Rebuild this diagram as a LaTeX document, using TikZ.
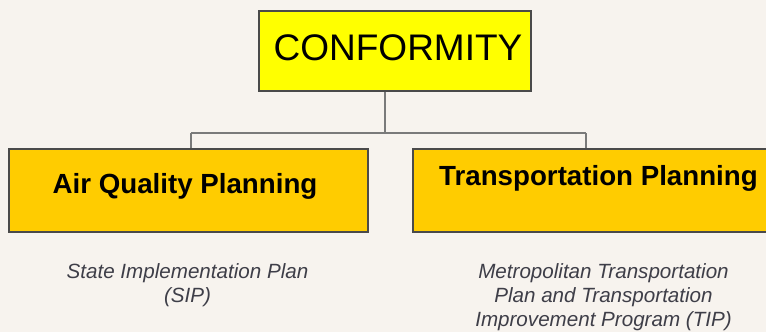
\documentclass[tikz,border=0pt]{standalone}
\usepackage{fontspec}
\setmainfont{Liberation Sans}
\definecolor{bg}{HTML}{F7F3EE}
\definecolor{topfill}{HTML}{FFFF00}
\definecolor{subfill}{HTML}{FFCC00}
\definecolor{boxline}{HTML}{4A4A4A}
\definecolor{linkline}{HTML}{7A7A7A}
\definecolor{notetext}{HTML}{3E3E48}
\tikzset{
  topbox/.style={draw=boxline, line width=1.2pt, fill=topfill, minimum width=272pt, minimum height=80pt, inner sep=0pt},
  subbox/.style={draw=boxline, line width=1.2pt, fill=subfill, minimum width=359pt, minimum height=83pt, inner sep=0pt},
  toptext/.style={anchor=base, inner sep=0pt, font=\fontsize{37}{44}\selectfont},
  subtext/.style={anchor=base, inner sep=0pt, font=\bfseries\fontsize{27.7}{33}\selectfont},
  notetext/.style={anchor=base, inner sep=0pt, align=center, text=notetext, font=\itshape\fontsize{20.6}{24}\selectfont},
  link/.style={draw=linkline, line width=1.3pt},
}
\begin{document}
\begin{tikzpicture}[x=1pt,y=-1pt]
\fill[bg] (0,0) rectangle (766,332);
\useasboundingbox (0,0) rectangle (766,332);
\clip (0,0) rectangle (766,332);
\node[topbox] (top) at (395,51) {};
\node[subbox] (air) at (188.5,190.5) {};
\node[subbox] (trans) at (592.5,190.5) {};
\node[toptext] (toplabel) at (398,60) {CONFORMITY};
\node[subtext] (airlabel) at (185,193) {Air Quality Planning};
\node[subtext] (translabel) at (598.5,185) {Transportation Planning};
\node[notetext] (sip) at (187.5,302) {State Implementation Plan\\(SIP)};
\node[notetext] (tip) at (603.5,326) {Metropolitan Transportation\\Plan and Transportation\\Improvement Program (TIP)};
\coordinate (j) at (385,133);
\coordinate (jl) at (191,133);
\coordinate (jr) at (586,133);
\draw[link] (top.south -| j) -- (j);
\draw[link] (jl) -- (jr);
\draw[link] (jl) -- (jl |- air.north);
\draw[link] (jr) -- (jr |- trans.north);
\end{tikzpicture}
\end{document}
